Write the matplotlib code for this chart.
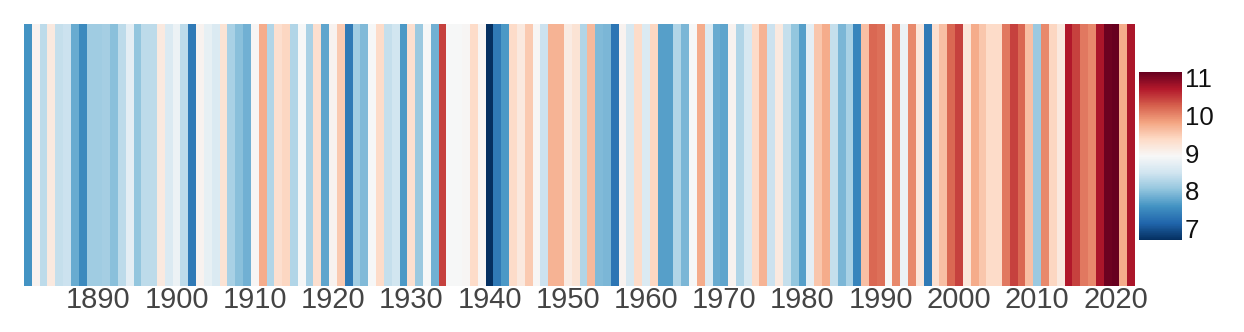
import matplotlib
matplotlib.use("Agg")
import matplotlib.pyplot as plt
import numpy as np

plt.rcParams['font.family'] = ['Liberation Sans', 'DejaVu Sans']

# annual mean temperature (deg C)
years = list(range(1881, 2023))
temps = [
    7.6, 9.0, 8.35, 9.15, 8.4, 8.45, 7.8, 7.5, 8.13, 8.13,      # 1881-1890
    8.17, 8.0, 8.35, 8.7, 8.05, 8.35, 8.35, 9.15, 8.6, 8.8,     # 1891-1900
    8.35, 7.35, 9.0, 8.75, 8.6, 9.25, 8.2, 8.0, 7.85, 8.95,     # 1901-1910
    9.75, 8.25, 9.3, 9.4, 8.25, 8.92, 8.2, 9.3, 7.75, 9.0,      # 1911-1920
    9.5, 7.35, 8.15, 7.95, 8.92, 9.35, 8.4, 8.5, 7.65, 9.3,     # 1921-1930
    8.1, 8.92, 7.85, 10.45, 8.92, 8.92, 8.95, 9.35, 8.95, 6.7,  # 1931-1940
    7.35, 7.65, 9.35, 9.15, 9.5, 8.95, 8.45, 9.7, 9.7, 9.1,     # 1941-1950
    9.25, 8.25, 9.65, 7.95, 7.9, 7.3, 9.0, 8.55, 9.35, 8.6,     # 1951-1960
    9.4, 7.7, 7.7, 8.25, 7.9, 8.92, 9.75, 8.6, 7.8, 7.75,       # 1961-1970
    9.0, 8.25, 8.55, 9.35, 9.7, 8.45, 9.15, 8.4, 8.05, 7.7,     # 1971-1980
    8.7, 9.55, 9.75, 8.4, 7.9, 8.2, 7.45, 9.6, 10.2, 10.15,     # 1981-1990
    8.92, 10.0, 8.8, 10.0, 9.2, 7.35, 9.3, 9.6, 10.2, 10.45,    # 1991-2000
    9.2, 9.75, 9.55, 9.35, 9.35, 10.1, 10.45, 10.2, 9.6, 8.1,   # 2001-2010
    10.0, 9.4, 9.15, 10.7, 10.45, 10.1, 10.0, 10.75, 11.1, 11.15,  # 2011-2020
    9.75, 10.75,                                                 # 2021-2022
]
xticks = list(range(1890, 2021, 10))
cbar_ticks = [7, 8, 9, 10, 11]

cmap = plt.get_cmap('RdBu_r')
norm = matplotlib.colors.Normalize(vmin=min(temps), vmax=max(temps))

fig = plt.figure(figsize=(12.44, 3.32), dpi=100)
ax = fig.add_axes([24 / 1244, 46 / 332, 1111 / 1244, 262 / 332])
ax.bar(years, 1, width=1.0, bottom=0, color=cmap(norm(temps)), linewidth=0)
ax.set_xlim(years[0] - 0.5, years[-1] + 0.5)
ax.set_ylim(0, 1)
ax.set_yticks([])
ax.set_xticks(xticks)
ax.set_xticklabels([str(y) for y in xticks])
ax.tick_params(axis='x', length=0, pad=0, labelsize=21, labelcolor='#444444')
for s in ax.spines.values():
    s.set_visible(False)

cax = fig.add_axes([1139 / 1244, 92 / 332, 43 / 1244, 168 / 332])
sm = matplotlib.cm.ScalarMappable(norm=norm, cmap=cmap)
cb = fig.colorbar(sm, cax=cax, ticks=cbar_ticks)
cb.outline.set_visible(False)
cb.ax.tick_params(length=0, pad=2, labelsize=18.5, labelcolor='#111111')

fig.savefig('out.png', dpi=100)
